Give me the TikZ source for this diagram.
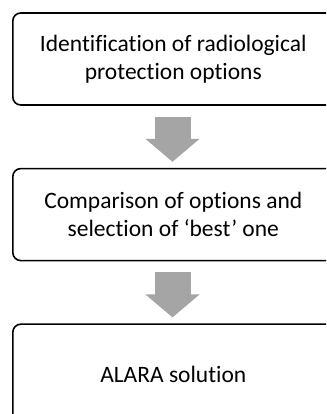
\documentclass[tikz,border=0pt]{standalone}
\usepackage{fontspec}
\setmainfont[Ligatures={TeX,NoCommon}]{Carlito}
\usetikzlibrary{arrows.meta,positioning}
\definecolor{stepGray}{HTML}{A5A5A5}
\tikzset{
  stageBox/.style={
    draw=black,
    line width=1.6pt,
    rounded corners=8pt,
    fill=white,
    minimum width=324pt,
    minimum height=92pt,
    align=center,
    font=\fontsize{23.5}{28}\selectfont,
    inner sep=4pt
  },
  blockArrow/.style={
    draw=stepGray,
    line width=36pt,
    -{Triangle[length=23pt, width=53pt]},
    shorten <=11pt,
    shorten >=6pt
  }
}

\begin{document}
\begin{tikzpicture}[x=1pt,y=1pt]
  \useasboundingbox (0,0) rectangle (326,414);
  \clip (0,0) rectangle (326,414);
  \node[stageBox] (ident) at (174.8,355)
    {\hspace*{-3pt}Identification of radiological\\\hspace*{-3pt}protection options};
  \node[stageBox, below=62pt of ident] (compare)
    {\hspace*{-3pt}Comparison of options and\\\hspace*{-3pt}selection of `best' one};
  \node[stageBox, minimum height=100pt, below=62pt of compare] (alara)
    {\hspace*{-3pt}ALARA solution};

  \draw[blockArrow] ([xshift=-2.3pt]ident.south) -- ([xshift=-2.3pt]compare.north);
  \draw[blockArrow] ([xshift=-2.3pt]compare.south) -- ([xshift=-2.3pt]alara.north);
\end{tikzpicture}
\end{document}
